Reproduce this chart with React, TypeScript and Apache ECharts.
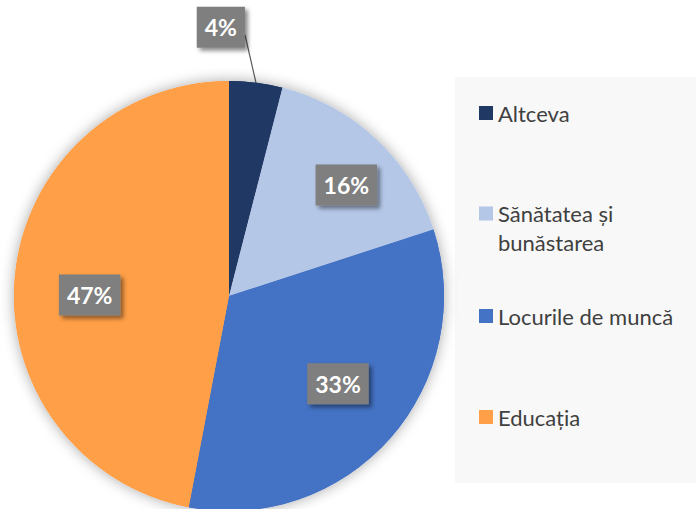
import React, { useEffect, useRef } from "react";
import * as echarts from "echarts";

const categories = ["Altceva", "Sănătatea și bunăstarea", "Locurile de muncă", "Educația"];
const values = [4, 16, 33, 47];
const colors = ["#203864", "#b4c7e7", "#4472c4", "#ff9f47"];
const legendTops = [100, 170, 303, 404];

const FONT = "Lato, 'Open Sans', sans-serif";

export default function App() {
  const ref = useRef<HTMLDivElement>(null);
  useEffect(() => {
    if (!ref.current) return;
    const chart = echarts.init(ref.current, null, { renderer: "svg" });
    const data = categories.map((name, i) => ({ name, value: values[i], itemStyle: { color: colors[i] } }));
    const labelStyle = {
      color: "#ffffff",
      fontFamily: FONT,
      fontSize: 23,
      lineHeight: 23,
      fontWeight: "bold" as const,
      backgroundColor: "#7f7f7f",
      padding: [9, 8, 9, 8],
      shadowBlur: 4,
      shadowOffsetX: 3,
      shadowOffsetY: 3,
      shadowColor: "rgba(0,0,0,0.45)",
      formatter: "{d}%",
    };
    // small nudges of the inside labels (Excel "best fit" placement)
    const nudges: Record<number, [number, number]> = { 1: [16, -3], 2: [-2, -10], 3: [8, 13] };
    const legends = categories.map((name, i) => {
      const wrap = name.includes(" și ");
      return {
        data: [name],
        orient: "vertical",
        left: 479,
        top: legendTops[i],
        padding: 0,
        itemWidth: 14,
        itemHeight: 14,
        icon: "rect",
        selectedMode: false,
        formatter: (n: string) => (wrap ? " \n" + n.replace("și ", "și\n") : n),
        textStyle: { color: "#404040", fontFamily: FONT, fontSize: 22, lineHeight: wrap ? 29 : 26 },
      };
    });
    chart.setOption({
      animation: false,
      backgroundColor: "#ffffff",
      graphic: [
        { type: "rect", left: 455, top: 77, shape: { width: 241, height: 406 }, style: { fill: "#f8f8f8" }, z: -10 },
      ],
      legend: legends,
      series: [
        {
          type: "pie",
          center: [229, 296],
          radius: 215,
          startAngle: 90,
          silent: true,
          label: { show: false },
          labelLine: { show: false },
          itemStyle: { shadowBlur: 14, shadowColor: "rgba(0,0,0,0.35)" },
          data,
        },
        {
          type: "pie",
          center: [229, 296],
          radius: 215,
          startAngle: 90,
          silent: true,
          percentPrecision: 0,
          label: { show: false },
          labelLine: { show: false },
          labelLayout: (p: any) => {
            if (p.dataIndex !== 0 || !p.labelLinePoints) return {};
            const p0 = p.labelLinePoints[0];
            const right = p0[0] - 11;
            const top = p0[1] - 76;
            return {
              dx: right - (p.labelRect.x + p.labelRect.width),
              dy: top - p.labelRect.y,
              labelLinePoints: [p0, [right, p0[1] - 48]],
            };
          },
          data: data.map((d, i) =>
            i === 0
              ? {
                  ...d,
                  label: { show: true, position: "outside", ...labelStyle },
                  labelLine: { show: true, length: 35, length2: 0, lineStyle: { color: "#595959", width: 1.2 } },
                }
              : d
          ),
        },
        {
          type: "pie",
          center: [229, 296],
          radius: 290,
          startAngle: 90,
          silent: true,
          percentPrecision: 0,
          itemStyle: { color: "rgba(0,0,0,0)" },
          label: { show: true, position: "inside", ...labelStyle },
          labelLine: { show: false },
          labelLayout: (p: any) => {
            const n = nudges[p.dataIndex];
            return n ? { dx: n[0], dy: n[1] } : {};
          },
          z: 5,
          data: data.map((d, i) => ({
            name: d.name,
            value: d.value,
            itemStyle: { color: "rgba(0,0,0,0)" },
            label: { show: i !== 0 },
          })),
        },
      ],
    });
    return () => chart.dispose();
  }, []);
  return <div ref={ref} style={{ position: "fixed", left: 0, top: 0, width: 696, height: 509 }} />;
}
